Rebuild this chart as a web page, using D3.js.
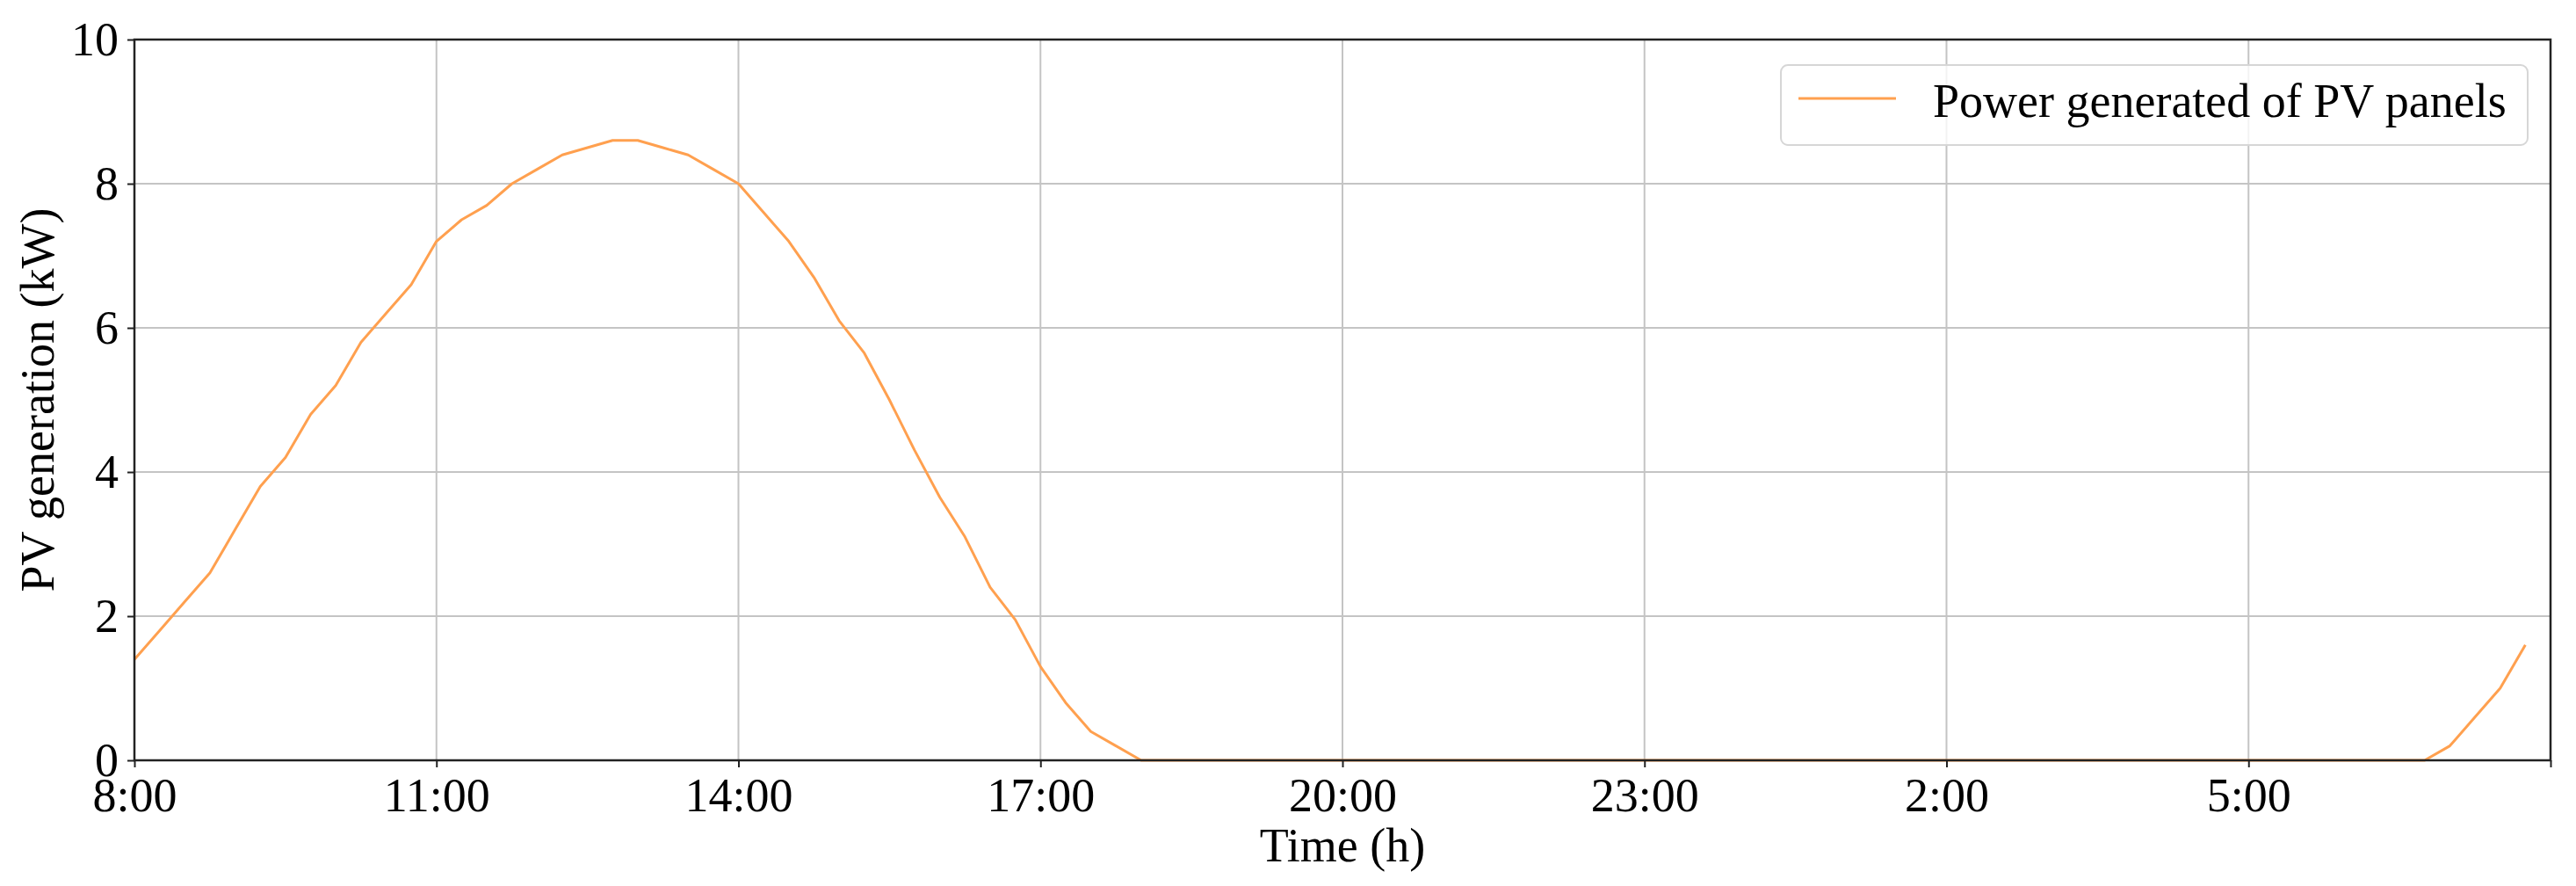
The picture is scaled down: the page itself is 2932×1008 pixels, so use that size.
<!DOCTYPE html>
<html>
<head>
<meta charset="utf-8">
<script src="https://cdn.jsdelivr.net/npm/d3@7"></script>
<style>
html,body{margin:0;padding:0;background:#fff;}
svg{display:block;}
text{font-family:"Liberation Serif","Times New Roman",serif;fill:#000;}
</style>
</head>
<body>
<svg id="chart" width="2932" height="1008"></svg>
<script>
// ---- data (15-minute steps starting at 8:00) ----
const stepHours = 0.25;
const pvValues = [
  1.4, 1.8, 2.2, 2.6, 3.2, 3.8, 4.2, 4.8,      // 8:00 - 9:45
  5.2, 5.8, 6.2, 6.6, 7.2, 7.5, 7.7, 8.0,      // 10:00 - 11:45
  8.2, 8.4, 8.5, 8.6, 8.6, 8.5, 8.4, 8.2,      // 12:00 - 13:45
  8.0, 7.6, 7.2, 6.7, 6.1, 5.65, 5.0, 4.3,     // 14:00 - 15:45
  3.65, 3.1, 2.4, 1.95, 1.3, 0.8, 0.4, 0.2,    // 16:00 - 17:45
  0, 0, 0, 0, 0, 0, 0, 0,                      // 18:00 - 19:45
  0, 0, 0, 0, 0, 0, 0, 0,                      // 20:00 - 21:45
  0, 0, 0, 0, 0, 0, 0, 0,                      // 22:00 - 23:45
  0, 0, 0, 0, 0, 0, 0, 0,                      // 0:00 - 1:45
  0, 0, 0, 0, 0, 0, 0, 0,                      // 2:00 - 3:45
  0, 0, 0, 0, 0, 0, 0, 0,                      // 4:00 - 5:45
  0, 0, 0, 0, 0.2, 0.6, 1.0, 1.6               // 6:00 - 7:45
];
const xTickHours = [0, 3, 6, 9, 12, 15, 18, 21, 24];
const xTickLabels = ["8:00", "11:00", "14:00", "17:00", "20:00", "23:00", "2:00", "5:00", ""];
const yTicks = [0, 2, 4, 6, 8, 10];
const seriesName = "Power generated of PV panels";
const xTitle = "Time (h)";
const yTitle = "PV generation (kW)";

// ---- layout ----
const L = 153, R = 2903, T = 45, B = 865;
const FS = 54;
const lineColor = "#ffa04f";
const gridColor = "#c4c4c4";

const svg = d3.select("#chart");
const x = d3.scaleLinear().domain([0, 24]).range([L, R]);
const y = d3.scaleLinear().domain([0, 10]).range([B, T]);

// grid
const g = svg.append("g");
g.selectAll("line.vg").data(xTickHours).enter().append("line")
  .attr("x1", d => x(d)).attr("x2", d => x(d))
  .attr("y1", T).attr("y2", B)
  .attr("stroke", gridColor).attr("stroke-width", 2);
g.selectAll("line.hg").data(yTicks).enter().append("line")
  .attr("x1", L).attr("x2", R)
  .attr("y1", d => y(d)).attr("y2", d => y(d))
  .attr("stroke", gridColor).attr("stroke-width", 2);

// data line
const line = d3.line()
  .x((d, i) => x(i * stepHours))
  .y(d => y(d));
svg.append("path").datum(pvValues)
  .attr("d", line)
  .attr("fill", "none")
  .attr("stroke", lineColor)
  .attr("stroke-width", 3)
  .attr("stroke-linejoin", "round");

// axes
const xAxis = d3.axisBottom(x)
  .tickValues(xTickHours)
  .tickFormat((d, i) => xTickLabels[i])
  .tickSize(8).tickPadding(12);
const xg = svg.append("g").attr("transform", `translate(0,${B})`).call(xAxis);
const yAxis = d3.axisLeft(y)
  .tickValues(yTicks)
  .tickFormat(d3.format("d"))
  .tickSize(8).tickPadding(10);
const yg = svg.append("g").attr("transform", `translate(${L},0)`).call(yAxis);

[xg, yg].forEach(a => {
  a.select(".domain").remove();
  a.selectAll(".tick line").attr("stroke", "#222").attr("stroke-width", 2);
  a.selectAll(".tick text")
    .style("font-family", '"Liberation Serif","Times New Roman",serif')
    .style("font-size", FS + "px").attr("fill", "#000");
});
yg.selectAll(".tick text").attr("dy", "0.33em");
xg.selectAll(".tick text").attr("dy", "0.71em");

// frame (spines)
svg.append("rect")
  .attr("x", L).attr("y", T)
  .attr("width", R - L).attr("height", B - T)
  .attr("fill", "none").attr("stroke", "#222").attr("stroke-width", 2.5);

// axis titles
svg.append("text")
  .attr("x", (L + R) / 2).attr("y", 980)
  .attr("text-anchor", "middle")
  .style("font-size", FS + "px")
  .text(xTitle);
svg.append("text")
  .attr("transform", `translate(61,${(T + B) / 2}) rotate(-90)`)
  .attr("text-anchor", "middle")
  .style("font-size", FS + "px")
  .text(yTitle);

// legend
const lg = svg.append("g");
lg.append("rect")
  .attr("x", 2027).attr("y", 74)
  .attr("width", 2877 - 2027).attr("height", 165 - 74)
  .attr("rx", 8).attr("ry", 8)
  .attr("fill", "#fff").attr("fill-opacity", 0.8)
  .attr("stroke", "#d6d6d6").attr("stroke-width", 2);
lg.append("line")
  .attr("x1", 2047).attr("x2", 2158)
  .attr("y1", 112).attr("y2", 112)
  .attr("stroke", lineColor).attr("stroke-width", 3);
lg.append("text")
  .attr("x", 2200).attr("y", 133)
  .style("font-size", FS + "px")
  .text(seriesName);
</script>
</body>
</html>
